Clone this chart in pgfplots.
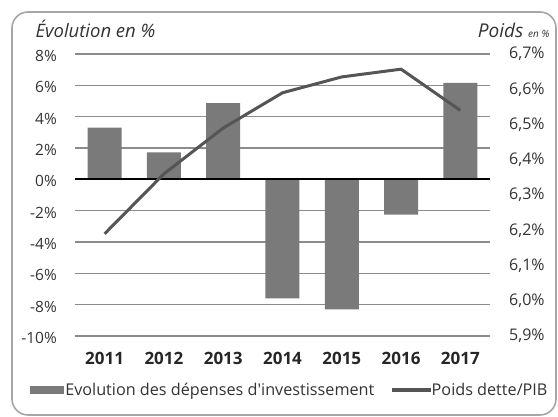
\documentclass[border=0pt]{standalone}
\usepackage{fontspec}
\setmainfont{Open Sans}
\usepackage{pgfplots}
\pgfplotsset{compat=1.18}
\definecolor{barc}{HTML}{7A7A7A}
\definecolor{linec}{HTML}{555555}
\definecolor{gridc}{HTML}{8C8C8C}
\begin{document}
\begin{tikzpicture}
% left axis: bars (axis box from (0,0) to (415pt,282pt))
\begin{axis}[
  scale only axis, width=415pt, height=282pt,
  xmin=-0.5, xmax=6.5, ymin=-10, ymax=8,
  axis line style={draw=none},
  tick style={draw=none},
  xtick={0,...,6},
  xticklabels={2011,2012,2013,2014,2015,2016,2017},
  xticklabel style={font=\bfseries\fontsize{17}{17}\selectfont, anchor=base, yshift=-29pt, text=black!85},
  ytick={-10,-8,...,8},
  yticklabels={-10\%,-8\%,-6\%,-4\%,-2\%,0\%,2\%,4\%,6\%,8\%},
  yticklabel style={font=\fontsize{15.5}{15.5}\selectfont, anchor=east, inner sep=0pt, xshift=-18pt, yshift=-2pt, text=black!80},
  ymajorgrids,
  grid style={gridc, line width=1.3pt},
  /pgf/number format/assume math mode=true,
]
\addplot[ybar, bar width=34pt, fill=barc, draw=none] coordinates {
(0,3.3) (1,1.72) (2,4.86) (3,-7.6) (4,-8.3) (5,-2.25) (6,6.15)
};
\addplot[black, line width=2pt, no marks] coordinates {(-0.5,0) (6.5,0)};
\end{axis}
% right axis: line
\begin{axis}[
  scale only axis, width=415pt, height=282pt,
  xmin=-0.5, xmax=6.5, ymin=5.9, ymax=6.7,
  axis y line*=right,
  axis x line=none,
  axis line style={draw=none},
  tick style={draw=none},
  ytick={5.9,6.0,6.1,6.2,6.3,6.4,6.5,6.6,6.7},
  yticklabels={{5,9\%},{6,0\%},{6,1\%},{6,2\%},{6,3\%},{6,4\%},{6,5\%},{6,6\%},{6,7\%}},
  yticklabel style={font=\fontsize{16}{16}\selectfont, anchor=west, inner sep=0pt, xshift=19pt, text=black!80},
  /pgf/number format/assume math mode=true,
  legend columns=2,
  legend style={at={(-0.108,-0.191)}, anchor=west, draw=none, fill=none, inner sep=0pt,
    font=\fontsize{16.2}{16.2}\selectfont, text=black!80,
    nodes={inner sep=1.5pt},
    /tikz/every even column/.append style={column sep=16pt}},
]
\addlegendimage{legend image code/.code={\fill[barc] (0pt,-3.5pt) rectangle (33pt,3.5pt);}}
\addlegendentry{Evolution des dépenses d\textquotesingle investissement}
\addlegendimage{legend image code/.code={\fill[linec] (0pt,-1.7pt) rectangle (38pt,1.7pt);}}
\addlegendentry{Poids dette/PIB}
\addplot[linec, line width=3pt, no marks, forget plot] coordinates {
(0,6.19) (1,6.36) (2,6.49) (3,6.59) (4,6.635) (5,6.657) (6,6.54)
};
\end{axis}
% frame and titles (image px = pt, origin at axis lower left: x = px-75, y = 336-py)
\path (-75pt,-81pt) rectangle (483pt,336pt);
\draw[gray!70, line width=1.6pt, rounded corners=16pt] (-63pt,-79pt) rectangle (481pt,324pt);
\node[anchor=base west, font=\itshape\fontsize{18.5}{18.5}\selectfont, text=black!80] at (-43pt,298pt) {Évolution en \%};
\node[anchor=base east, text=black!80] at (478pt,298pt) {\itshape\fontsize{19}{19}\selectfont Poids \fontsize{10}{10}\selectfont en \%};
\end{tikzpicture}
\end{document}
